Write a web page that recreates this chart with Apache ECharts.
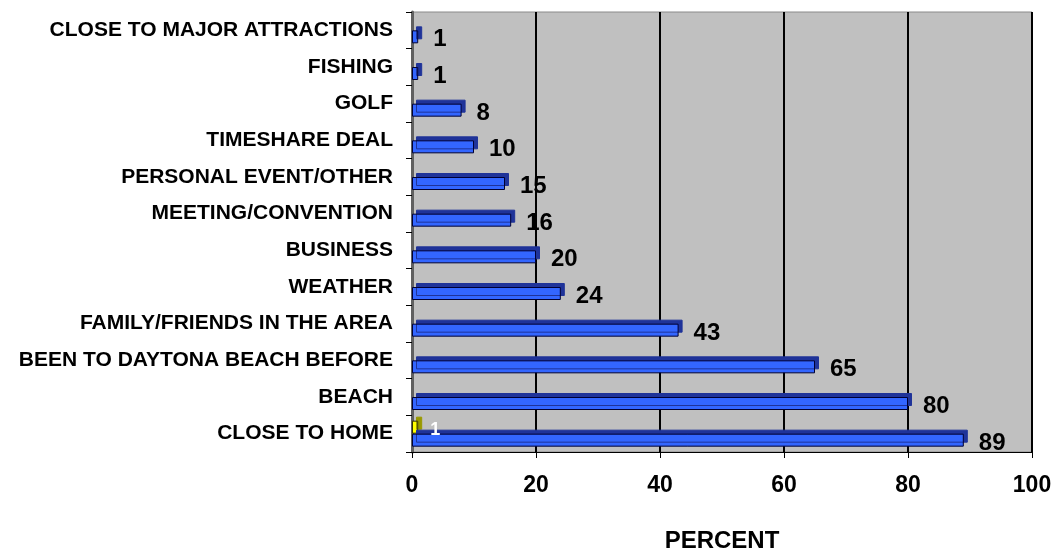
<!DOCTYPE html>
<html>
<head>
<meta charset="utf-8">
<script src="https://cdn.jsdelivr.net/npm/echarts@6/dist/echarts.min.js"></script>
<style>html,body{margin:0;padding:0;background:#fff}#c{width:1057px;height:552px}</style>
</head>
<body>
<div id="c"></div>
<script>
var categories = ['CLOSE TO HOME','BEACH','BEEN TO DAYTONA BEACH BEFORE','FAMILY/FRIENDS IN THE AREA','WEATHER','BUSINESS','MEETING/CONVENTION','PERSONAL EVENT/OTHER','TIMESHARE DEAL','GOLF','FISHING','CLOSE TO MAJOR ATTRACTIONS'];
var blueValues = [89,80,65,43,24,20,16,15,10,8,1,1];
var yellowValues = [1,null,null,null,null,null,null,null,null,null,null,null];
var xTicks = [0,20,40,60,80,100];

var chart = echarts.init(document.getElementById('c'), null, {renderer:'canvas'});
var font = 'Arial, "Liberation Sans", sans-serif';
chart.setOption({
  animation:false,
  backgroundColor:'#ffffff',
  grid:{left:412, right:25, top:12, bottom:100, containLabel:false, outerBoundsMode:'none', show:true, backgroundColor:'#c0c0c0', borderColor:'#8a8a8a', borderWidth:1},
  xAxis:{
    type:'value', min:xTicks[0], max:xTicks[xTicks.length-1], interval:20,
    name:'PERCENT', nameLocation:'middle', nameGap:77,
    nameTextStyle:{fontFamily:font, fontWeight:'bold', fontSize:24, color:'#000'},
    axisLine:{show:true, lineStyle:{color:'#000', width:1}},
    axisTick:{show:true, length:6, lineStyle:{color:'#000'}},
    axisLabel:{fontFamily:font, fontWeight:'bold', fontSize:23, color:'#000', margin:22},
    splitLine:{show:true, lineStyle:{color:'#000', width:2}}
  },
  yAxis:{
    type:'category', data:categories,
    axisLine:{show:true, lineStyle:{color:'#606060', width:3}},
    axisTick:{show:true, length:6, inside:false, lineStyle:{color:'#000'}},
    axisLabel:{fontFamily:font, fontWeight:'bold', fontSize:21, color:'#000', margin:19, padding:[6,0,0,0]},
    splitLine:{show:false}
  },
  series:[
    {
      type:'bar', name:'yellow', data:yellowValues, barWidth:13, barGap:'0%',
      itemStyle:{color:'#ffff00', borderColor:'#333300', borderWidth:1, shadowColor:'#999900', shadowOffsetX:4, shadowOffsetY:-4, shadowBlur:0},
      label:{show:true, position:'right', distance:12, offset:[0,3], fontFamily:font, fontWeight:'bold', fontSize:18, color:'#ffffff'}
    },
    {
      type:'bar', name:'blue', data:blueValues, barWidth:13, barGap:'0%',
      itemStyle:{color:'#3366ff', borderColor:'#000033', borderWidth:1, shadowColor:'#1f3399', shadowOffsetX:4, shadowOffsetY:-4, shadowBlur:0},
      label:{show:true, position:'right', distance:15, offset:[0,3], fontFamily:font, fontWeight:'bold', fontSize:24, color:'#000'}
    }
  ]
});
</script>
</body>
</html>
